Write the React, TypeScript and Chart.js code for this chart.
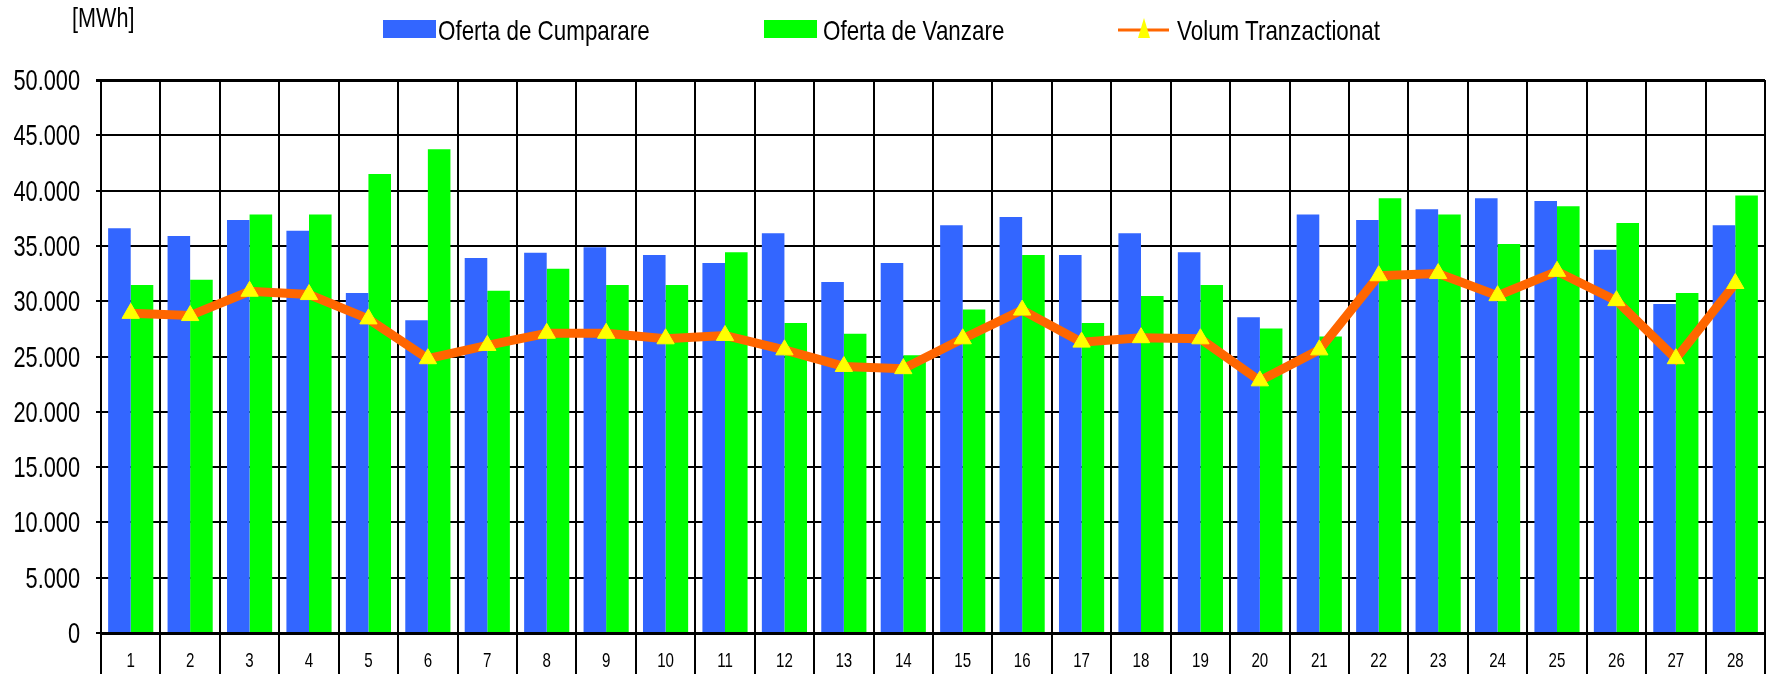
import React, { useEffect, useRef } from "react";
import { Chart, registerables } from "chart.js";

Chart.register(...registerables);

const categories = ["1","2","3","4","5","6","7","8","9","10","11","12","13","14","15","16","17","18","19","20","21","22","23","24","25","26","27","28"];
const ofertaCumparare = [36600, 35900, 37350, 36380, 30740, 28270, 33910, 34390, 34880, 34180, 33460, 36140, 31740, 33460, 36870, 37620, 34180, 36140, 34420, 28540, 37830, 37350, 38320, 39310, 39070, 34660, 29740, 36870];
const ofertaVanzare = [31470, 31950, 37830, 37830, 41510, 43750, 30950, 32940, 31460, 31460, 34420, 28020, 27060, 25120, 29260, 34180, 28020, 30470, 31460, 27540, 26810, 39310, 37830, 35180, 38590, 37080, 30740, 39550];
const volumTranzactionat = [28900, 28700, 30900, 30600, 28400, 24800, 26000, 27100, 27100, 26600, 26900, 25600, 24100, 23900, 26600, 29200, 26300, 26700, 26600, 22800, 25600, 32300, 32500, 30500, 32700, 30050, 24800, 31600];
const yTickLabels = ["0", "5.000", "10.000", "15.000", "20.000", "25.000", "30.000", "35.000", "40.000", "45.000", "50.000"];
const seriesNames = ["Oferta de Cumparare", "Oferta de Vanzare", "Volum Tranzactionat"];
const unitLabel = "[MWh]";

const FONT = "'Liberation Sans', Arial, sans-serif";
const NARROW = 0.8;
const BLUE = "#3366FF";
const GREEN = "#00FF00";
const ORANGE = "#FF6600";
const YELLOW = "#FFFF00";

// Draws the tick labels in a narrow (horizontally condensed) face, like Arial Narrow.
const narrowTicks = {
  id: "narrowTicks",
  afterDraw(chart: any) {
    const ctx = chart.ctx;
    const ys = chart.scales.y;
    const xs = chart.scales.x;
    ctx.save();
    ctx.fillStyle = "#000";
    ctx.font = `29px ${FONT}`;
    ctx.textAlign = "right";
    ctx.textBaseline = "middle";
    ys.ticks.forEach((t: any) => {
      const y = ys.getPixelForValue(t.value);
      ctx.save();
      ctx.translate(ys.right - 21, y + 2);
      ctx.scale(0.75, 1);
      ctx.fillText(yTickLabels[Math.round(t.value / 5000)], 0, 0);
      ctx.restore();
    });
    ctx.font = `21px ${FONT}`;
    ctx.textAlign = "center";
    xs.ticks.forEach((t: any, i: number) => {
      const x = xs.getPixelForValue(i);
      ctx.save();
      ctx.translate(x, xs.top + 28);
      ctx.scale(0.72, 1);
      ctx.fillText(categories[i], 0, 0);
      ctx.restore();
    });
    ctx.restore();
  },
};

export default function App() {
  const ref = useRef<HTMLCanvasElement | null>(null);

  useEffect(() => {
    if (!ref.current) return;
    const chart = new Chart(ref.current, {
      type: "bar",
      data: {
        labels: categories,
        datasets: [
          {
            type: "line",
            label: seriesNames[2],
            data: volumTranzactionat,
            borderColor: ORANGE,
            borderWidth: 9,
            pointStyle: "triangle",
            pointRadius: 10,
            pointBackgroundColor: YELLOW,
            pointBorderColor: YELLOW,
            pointBorderWidth: 1,
            tension: 0,
            order: 0,
          } as any,
          {
            label: seriesNames[0],
            data: ofertaCumparare,
            backgroundColor: BLUE,
            borderWidth: 0,
            categoryPercentage: 0.76,
            barPercentage: 1.0,
            order: 1,
          },
          {
            label: seriesNames[1],
            data: ofertaVanzare,
            backgroundColor: GREEN,
            borderWidth: 0,
            categoryPercentage: 0.76,
            barPercentage: 1.0,
            order: 1,
          },
        ],
      },
      options: {
        responsive: false,
        animation: false,
        devicePixelRatio: 1,
        layout: { padding: { top: 80, right: 0, left: 0, bottom: 0 } },
        plugins: {
          legend: { display: false },
          tooltip: { enabled: false },
          title: { display: false },
        },
        scales: {
          x: {
            offset: true,
            grid: {
              offset: true,
              color: "#000000",
              lineWidth: 2,
              tickLength: 41,
              drawTicks: true,
            },
            border: { display: true, color: "#000000", width: 3 },
            ticks: { display: false, autoSkip: false },
            afterFit: (scale: any) => {
              scale.height = 41;
            },
          },
          y: {
            min: 0,
            max: 50000,
            grid: {
              color: "#000000",
              lineWidth: (c: any) => (c.tick && c.tick.value === 50000 ? 3 : 2),
              tickLength: 5,
            },
            border: { display: true, color: "#000000", width: 2 },
            ticks: { stepSize: 5000, display: false },
            afterFit: (scale: any) => {
              scale.width = 101;
            },
          },
        },
      },
      plugins: [narrowTicks],
    });
    return () => chart.destroy();
  }, []);

  const textStyle: React.CSSProperties = {
    fontFamily: FONT,
    fontSize: 28,
    color: "#000",
    whiteSpace: "nowrap",
    lineHeight: "38px",
    transform: `scaleX(${NARROW})`,
    transformOrigin: "0 0",
  };

  return (
    <div style={{ position: "fixed", left: 0, top: 0, width: 1772, height: 674, overflow: "hidden", background: "#fff" }}>
      <canvas ref={ref} width={1776} height={674} style={{ position: "absolute", left: 0, top: 0, width: 1776, height: 674 }} />
      <div style={{ position: "absolute", left: 72, top: 0, fontFamily: FONT, fontSize: 27, lineHeight: "36px", color: "#000", whiteSpace: "nowrap", transform: `scaleX(${NARROW})`, transformOrigin: "0 0" }}>{unitLabel}</div>
      <div style={{ position: "absolute", left: 383, top: 20, width: 53, height: 18, background: BLUE }} />
      <div style={{ ...textStyle, position: "absolute", left: 438, top: 12 }}>{seriesNames[0]}</div>
      <div style={{ position: "absolute", left: 764, top: 20, width: 53, height: 18, background: GREEN }} />
      <div style={{ ...textStyle, position: "absolute", left: 823, top: 12 }}>{seriesNames[1]}</div>
      <svg style={{ position: "absolute", left: 1118, top: 16 }} width={52} height={26}>
        <line x1={0} y1={14} x2={51} y2={14} stroke={ORANGE} strokeWidth={3} />
        <polygon points="26,2 32,22 20,22" fill={YELLOW} />
      </svg>
      <div style={{ ...textStyle, position: "absolute", left: 1177, top: 12 }}>{seriesNames[2]}</div>
    </div>
  );
}
